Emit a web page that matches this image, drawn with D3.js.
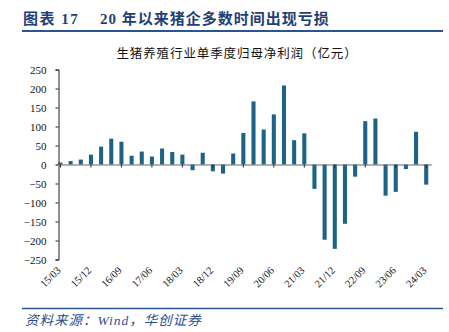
<!DOCTYPE html>
<html>
<head>
<meta charset="utf-8">
<script src="https://cdn.jsdelivr.net/npm/d3@7"></script>
<style>
  body { margin: 0; background: #fff; }
  svg { display: block; }
</style>
</head>
<body>
<div class="chart-box"></div>
<script>
// quarterly categories, 2015Q1 .. 2024Q1
var quarters = ["15/03","15/06","15/09","15/12","16/03","16/06","16/09","16/12",
  "17/03","17/06","17/09","17/12","18/03","18/06","18/09","18/12",
  "19/03","19/06","19/09","19/12","20/03","20/06","20/09","20/12",
  "21/03","21/06","21/09","21/12","22/03","22/06","22/09","22/12",
  "23/03","23/06","23/09","23/12","24/03"];
// 单季度归母净利润 (亿元)
var profit = [5, 9, 13, 26, 47, 68, 60, 23,
  34, 21, 42, 33, 26, -15, 31, -18,
  -24, 29, 83, 166, 92, 132, 208, 64,
  82, -64, -198, -222, -156, -32, 114, 121,
  -82, -72, -12, 86, -53];
var y_ticks = [250, 200, 150, 100, 50, 0, -50, -100, -150, -200, -250];
var label_quarters = quarters.filter(function(d, i) { return i % 3 == 0; });

var width = 449, height = 332;
var bar_color = "#1d6387";
var navy = "#1f3f78";

var svg = d3.select(".chart-box").append("svg")
    .attr("width", width)
    .attr("height", height);

// header
svg.append("text")
    .attr("x", 23).attr("y", 24)
    .attr("font-family", "'Liberation Serif', 'Noto Sans CJK SC', serif")
    .attr("font-weight", "bold")
    .attr("font-size", 15)
    .attr("letter-spacing", 1.5)
    .attr("fill", navy)
    .text("图表 17");
svg.append("text")
    .attr("x", 100).attr("y", 24)
    .attr("font-family", "'Liberation Serif', 'Noto Sans CJK SC', serif")
    .attr("font-weight", "bold")
    .attr("font-size", 15)
    .attr("letter-spacing", 1)
    .attr("fill", navy)
    .text("20 年以来猪企多数时间出现亏损");
svg.append("line")
    .attr("x1", 22).attr("x2", 443)
    .attr("y1", 31).attr("y2", 31)
    .attr("stroke", "#2b5592").attr("stroke-width", 2);

svg.append("text")
    .attr("x", 237).attr("y", 58)
    .attr("text-anchor", "middle")
    .attr("font-family", "'Noto Sans CJK SC', sans-serif")
    .attr("font-size", 12.5)
    .attr("letter-spacing", 0.9)
    .attr("fill", "#111")
    .text("生猪养殖行业单季度归母净利润（亿元）");

// scales
var x = d3.scaleBand()
    .domain(quarters)
    .range([55.4, 431.3])
    .paddingInner(0.6)
    .paddingOuter(0.3);
var y = d3.scaleLinear()
    .domain([-250, 250])
    .range([259.5, 69.5]);

// bars
svg.selectAll(".bar")
    .data(profit)
  .enter().append("rect")
    .attr("class", "bar")
    .attr("x", function(d, i) { return x(quarters[i]); })
    .attr("width", x.bandwidth())
    .attr("y", function(d) { return y(Math.max(d, 0)); })
    .attr("height", function(d) { return Math.abs(y(d) - y(0)); })
    .attr("fill", bar_color);

// y axis
var y_axis = svg.append("g")
    .attr("transform", "translate(58.5,0)")
    .call(d3.axisLeft(y).tickValues(y_ticks).tickSize(3).tickSizeOuter(3).tickPadding(9));
y_axis.select(".domain").attr("stroke", "#222");
y_axis.selectAll(".tick line").attr("stroke", "#222");
y_axis.selectAll("text")
    .attr("font-family", "'Liberation Serif', serif")
    .attr("font-size", 11)
    .attr("fill", "#111");

// zero line with ticks every 3 quarters
var x_axis = svg.append("g")
    .attr("transform", "translate(0," + y(0) + ")")
    .call(d3.axisBottom(x).tickValues(label_quarters).tickSize(3).tickSizeOuter(0).tickFormat(""));
x_axis.select(".domain").attr("stroke", "#666").attr("stroke-width", 1.2);
x_axis.selectAll(".tick line").attr("stroke", "#222");

// rotated labels at the bottom
svg.selectAll(".xlabel")
    .data(label_quarters)
  .enter().append("text")
    .attr("class", "xlabel")
    .attr("transform", function(d) {
      return "translate(" + (x(d) + x.bandwidth() / 2 + 1) + ",271) rotate(-45)";
    })
    .attr("text-anchor", "end")
    .attr("font-family", "'Liberation Serif', serif")
    .attr("font-size", 10.5)
    .attr("fill", "#111")
    .text(function(d) { return d; });

// footer
svg.append("line")
    .attr("x1", 22).attr("x2", 443)
    .attr("y1", 308.5).attr("y2", 308.5)
    .attr("stroke", "#2b5592").attr("stroke-width", 1.5);
svg.append("text")
    .attr("x", 25).attr("y", 325)
    .attr("font-family", "'Liberation Serif', 'Noto Sans CJK SC', serif")
    .attr("font-style", "italic")
    .attr("font-size", 13.5)
    .attr("letter-spacing", 1)
    .attr("fill", "#2a4f8f")
    .text("资料来源：Wind，华创证券");
</script>
</body>
</html>
